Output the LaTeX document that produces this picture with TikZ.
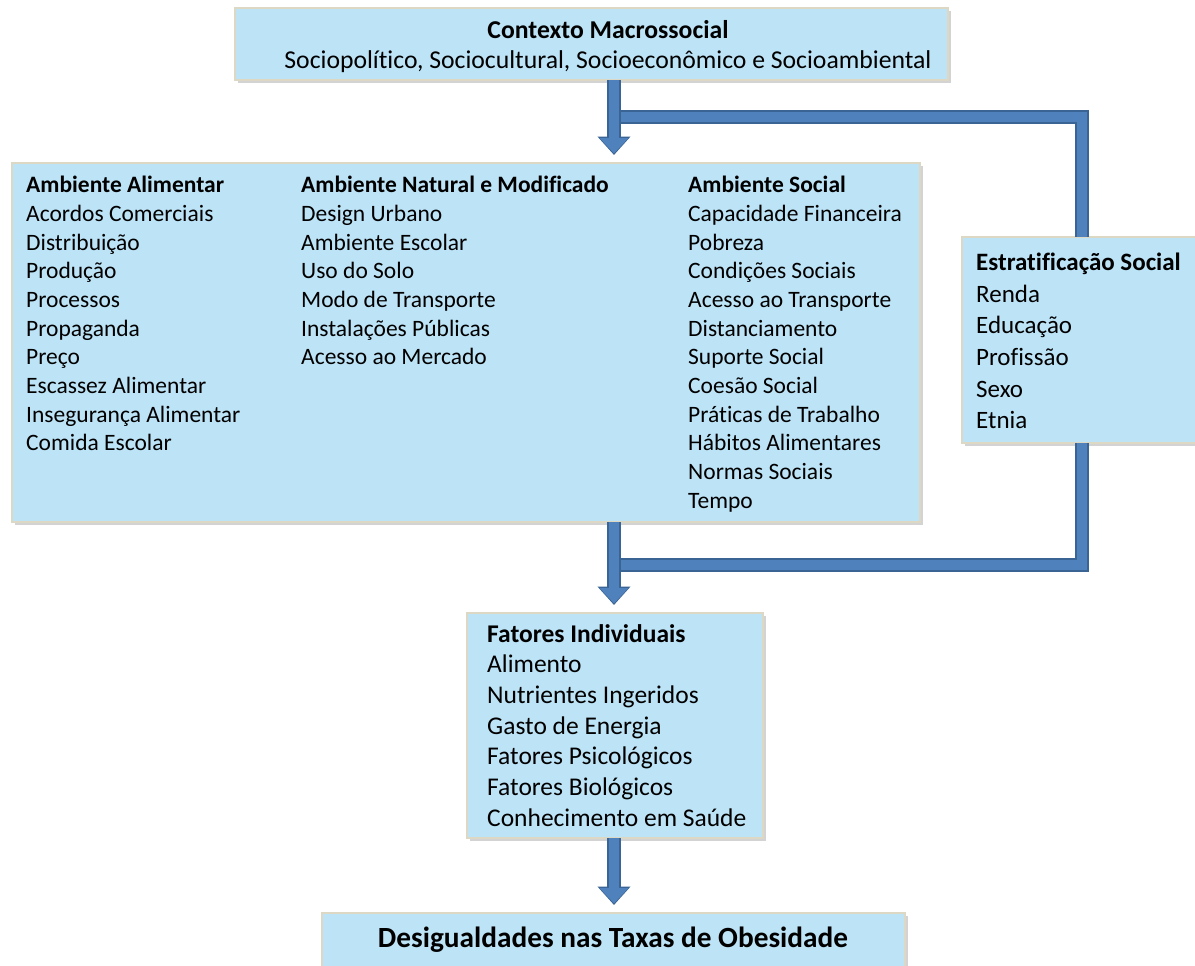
\documentclass[tikz,border=0pt]{standalone}
\usepackage{fontspec}
\setmainfont{Carlito}[Ligatures=CommonOff]
\usetikzlibrary{arrows.meta,shadows,calc}
\definecolor{boxfill}{HTML}{BDE3F6}
\definecolor{boxline}{HTML}{DDD8C4}
\definecolor{arrowfill}{HTML}{4F81BD}
\definecolor{arrowline}{HTML}{3A6493}
\begin{document}
\begin{tikzpicture}[x=1pt,y=-1pt,
  box/.style={draw=boxline, line width=1.5pt, fill=boxfill,
    drop shadow={shadow xshift=3pt, shadow yshift=-3pt, opacity=0.35},
    inner sep=0pt, outer sep=0pt},
  coltext/.style={anchor=north west, inner sep=0pt, align=left,
    font=\fontsize{23.5pt}{28.7pt}\selectfont},
  bar/.style={draw=arrowline, line width=13.5pt,
    postaction={draw=arrowfill, line width=10pt}},
  blockarrow/.style={draw=arrowfill, line width=10.5pt,
    -{Triangle[width=28pt,length=15.5pt]}, shorten >=9.5pt,
    preaction={draw=arrowline, line width=14pt,
      -{Triangle[width=32pt,length=18.5pt]}, shorten >=8pt}}
  ]
\useasboundingbox (0,0) rectangle (1195,966);
\clip (0,0) rectangle (1195,966);

% boxes
\node[box, minimum width=713pt, minimum height=72pt] (macro) at (591.5,44) {};
\node[inner sep=0pt, align=center, font=\fontsize{25.7pt}{30pt}\selectfont] (macrotext) at (608,47)
  {\textbf{Contexto Macrossocial}\\Sociopolítico, Sociocultural, Socioeconômico e Socioambiental};

\node[box, minimum width=908pt, minimum height=359pt] (amb) at (466,342.5) {};
\node[coltext] (alim) at (26,176) {\textbf{Ambiente Alimentar}\\Acordos Comerciais\\Distribuição\\Produção\\Processos\\Propaganda\\Preço\\Escassez Alimentar\\Insegurança Alimentar\\Comida Escolar};
\node[coltext] (natural) at (301,176) {\textbf{Ambiente Natural e Modificado}\\Design Urbano\\Ambiente Escolar\\Uso do Solo\\Modo de Transporte\\Instalações Públicas\\Acesso ao Mercado};
\node[coltext] (social) at (688,176) {\textbf{Ambiente Social}\\Capacidade Financeira\\Pobreza\\Condições Sociais\\Acesso ao Transporte\\Distanciamento\\Suporte Social\\Coesão Social\\Práticas de Trabalho\\Hábitos Alimentares\\Normas Sociais\\Tempo};

\node[box, minimum width=240pt, minimum height=206pt] (estrat) at (1082,340) {};
\node[coltext, font=\fontsize{25pt}{31.6pt}\selectfont] (estrattext) at (976,253) {\textbf{Estratificação Social}\\Renda\\Educação\\Profissão\\Sexo\\Etnia};

\node[box, minimum width=296pt, minimum height=225pt] (indiv) at (615,725.5) {};
\node[coltext, font=\fontsize{25.5pt}{30.7pt}\selectfont] (indivtext) at (487,624) {\textbf{Fatores Individuais}\\Alimento\\Nutrientes Ingeridos\\Gasto de Energia\\Fatores Psicológicos\\Fatores Biológicos\\Conhecimento em Saúde};

\node[box, minimum width=583pt, minimum height=64pt] (obes) at (613.5,945) {};
\node[inner sep=0pt, font=\fontsize{29.3pt}{34pt}\selectfont\bfseries] (obestext) at (613,940) {Desigualdades nas Taxas de Obesidade};

% connectors
\coordinate (j1) at (614,117);
\coordinate (j2) at (614,565);
\draw[bar] (j1) -| (estrat.north);
\draw[bar] (estrat.south) |- (j2);
\draw[blockarrow] (macro.south -| j1) -- (amb.north -| j1);
\draw[blockarrow] (amb.south -| j1) -- (indiv.north -| j1);
\draw[blockarrow] (indiv.south -| j1) -- (obes.north -| j1);
\end{tikzpicture}
\end{document}
